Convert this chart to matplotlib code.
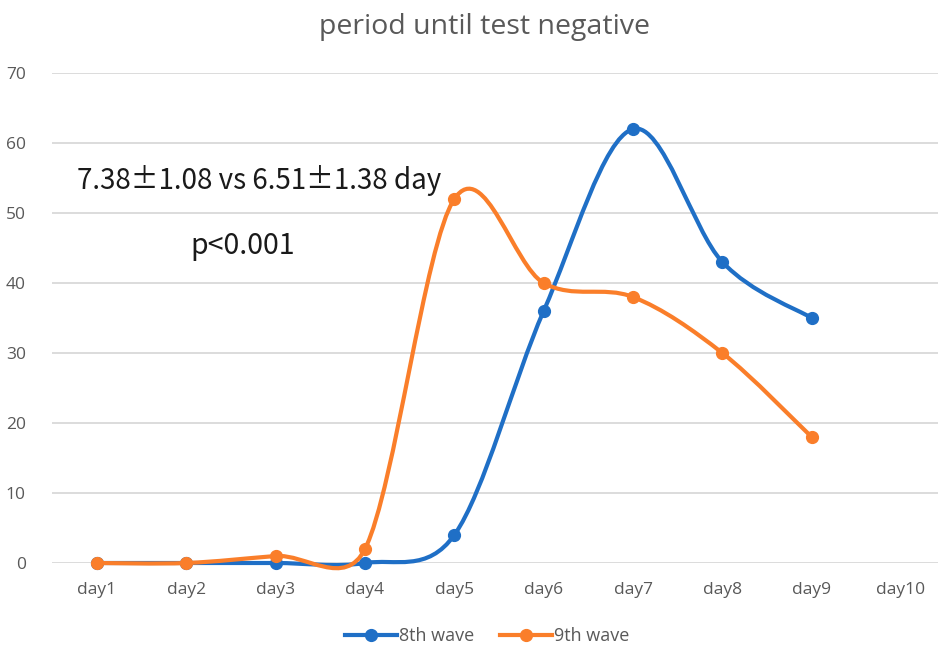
import matplotlib
matplotlib.use("Agg")
import matplotlib.pyplot as plt
import numpy as np
from matplotlib.path import Path
from matplotlib.patches import PathPatch
from matplotlib.lines import Line2D

categories = ["day1", "day2", "day3", "day4", "day5", "day6", "day7", "day8", "day9", "day10"]
wave8 = [0, 0, 0, 0, 4, 36, 62, 43, 35]
wave9 = [0, 0, 1, 2, 52, 40, 38, 30, 18]
yticks = [0, 10, 20, 30, 40, 50, 60, 70]

BLUE = "#1F6FC6"
ORANGE = "#FA7E2A"
GRAY = "#595959"

fig = plt.figure(figsize=(9.38, 6.45), dpi=100)
ax = fig.add_axes([52.3 / 938, 82 / 645, (945.7 - 52.3) / 938, 490 / 645])
ax.set_xlim(0.5, 10.5)
ax.set_ylim(0, 70)


def excel_smooth_path(xs, ys):
    """Excel-style smoothed line: Bezier segments with handle lengths capped in pixel space."""
    pts = np.column_stack([np.asarray(xs, float), np.asarray(ys, float)])
    disp = ax.transData.transform(pts)
    n = len(pts)
    verts = [tuple(pts[0])]
    codes = [Path.MOVETO]

    def d(a, b):
        return np.hypot(*(disp[a] - disp[b]))

    for i in range(n - 1):
        i0 = max(i - 1, 0)
        i3 = min(i + 2, n - 1)
        d12 = d(i, i + 1)
        d02 = d(i0, i + 1)
        d13 = d(i, i3)
        f1 = 1 / 6 if d02 / 6 < d12 / 2 else (d12 / (2 * d02) if d02 > 0 else 0)
        f2 = 1 / 6 if d13 / 6 < d12 / 2 else (d12 / (2 * d13) if d13 > 0 else 0)
        b1 = pts[i] + (pts[i + 1] - pts[i0]) * f1
        b2 = pts[i + 1] - (pts[i3] - pts[i]) * f2
        verts += [tuple(b1), tuple(b2), tuple(pts[i + 1])]
        codes += [Path.CURVE4] * 3
    return Path(verts, codes)


x = np.arange(1, len(categories) + 1)
for vals, col, z in [(wave8, BLUE, 3), (wave9, ORANGE, 4)]:
    xs = x[:len(vals)]
    patch = PathPatch(excel_smooth_path(xs, vals), facecolor="none", edgecolor=col,
                      lw=3.0, capstyle="round", joinstyle="round", zorder=z, clip_on=False)
    ax.add_patch(patch)
    ax.plot(xs, vals, "o", color=col, ms=8.5, zorder=z + 0.5, clip_on=False)

ax.set_yticks(yticks)
ax.set_xticks(x)
ax.set_xticklabels(categories)
for s in ax.spines.values():
    s.set_visible(False)
ax.grid(axis="y", color="#D9D9D9", lw=1.3, zorder=0)
ax.set_axisbelow(True)
ax.tick_params(axis="y", length=0, pad=19, labelsize=12.5, labelcolor=GRAY)
ax.tick_params(axis="x", length=0, pad=14, labelsize=12.5, labelcolor=GRAY)
for lab in ax.get_xticklabels() + ax.get_yticklabels():
    lab.set_family("Open Sans")

fig.text(484 / 938, 1 - 27 / 645, "period until test negative", ha="center", va="center",
         fontsize=20.5, color=GRAY, family="Open Sans")

fig.text(77 / 938, 1 - 180 / 645, "7.38\u00b11.08 vs 6.51\u00b11.38 day", ha="left", va="center",
         fontsize=20, color="#1A1A1A", family=["Noto Sans CJK JP", "DejaVu Sans"])
fig.text(190 / 938, 1 - 246 / 645, "p<0.001", ha="left", va="center",
         fontsize=20.5, color="#1A1A1A", family=["Noto Sans CJK JP", "DejaVu Sans"])

handles = [Line2D([], [], color=BLUE, lw=3, marker="o", ms=8.5),
           Line2D([], [], color=ORANGE, lw=3, marker="o", ms=8.5)]
leg = fig.legend(handles, ["8th wave", "9th wave"], loc="center", bbox_to_anchor=(487 / 938, 1 - 636 / 645),
                 ncol=2, frameon=False, handlelength=2.9, handletextpad=0.1, columnspacing=1.4,
                 prop={"family": "Open Sans", "size": 13})
for t in leg.get_texts():
    t.set_color(GRAY)

fig.savefig("out.png", dpi=100)
